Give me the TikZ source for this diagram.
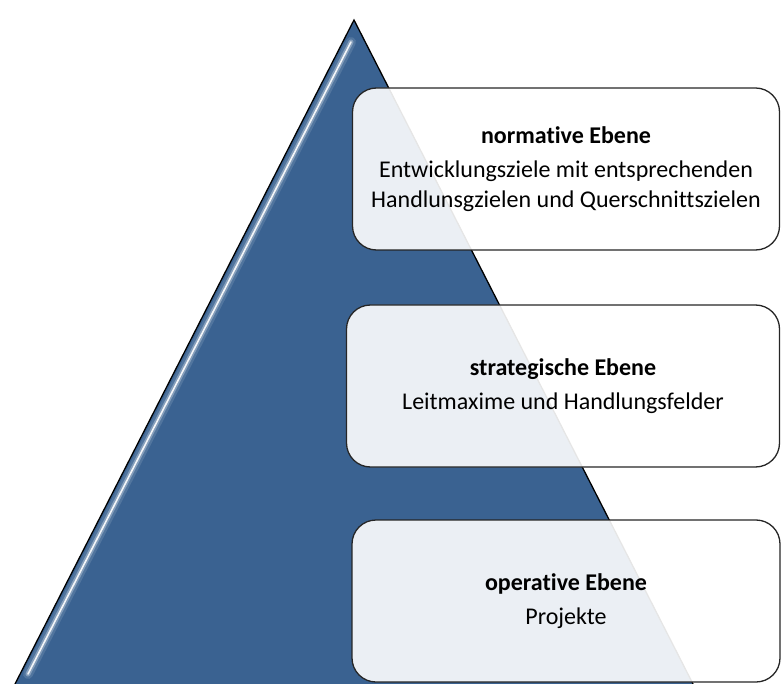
\documentclass[tikz,border=0pt]{standalone}
\usepackage{fontspec}
\setmainfont{Carlito}[Ligatures=NoCommon]
\usepackage{tikz}
\definecolor{pyrblue}{RGB}{58,98,145}

\begin{document}
\begin{tikzpicture}[x=1pt, y=-1pt,
  ebene/.style={draw=black!85, line width=1.3pt, rounded corners=24pt, fill=white, fill opacity=0.9, text opacity=1,
    align=center, minimum height=162pt, font=\fontsize{24}{30}\selectfont}]
  \useasboundingbox (0,0) rectangle (781,684);
  \coordinate (apex) at (354,20);
  \coordinate (baseL) at (15,684);
  \coordinate (baseR) at (693,684);
  \fill[pyrblue] (apex) -- (baseL) -- (baseR) -- cycle;
  % glanzlicht links
  \draw[white, line width=10pt, opacity=0.12, line cap=round] (351,42) -- (28,674);
  \draw[white, line width=5pt, opacity=0.3, line cap=round] (351,42) -- (28,674);
  \draw[white, line width=1.6pt, opacity=0.9, line cap=round] (351,42) -- (28,674);
  \draw[black, line width=1.3pt] (baseL) -- (apex) -- (baseR);
  \node[ebene, minimum width=427pt] (norm) at (566,169)
    {\textbf{normative Ebene}\\[4pt]Entwicklungsziele mit entsprechenden\\Handlunsgzielen und Querschnittszielen};
  \node[ebene, minimum width=433pt] (strat) at (563,386)
    {\textbf{strategische Ebene}\\[4pt]Leitmaxime und Handlungsfelder};
  \node[ebene, minimum width=428pt] (oper) at (566,601)
    {\textbf{operative Ebene}\\[4pt]Projekte};
\end{tikzpicture}
\end{document}
